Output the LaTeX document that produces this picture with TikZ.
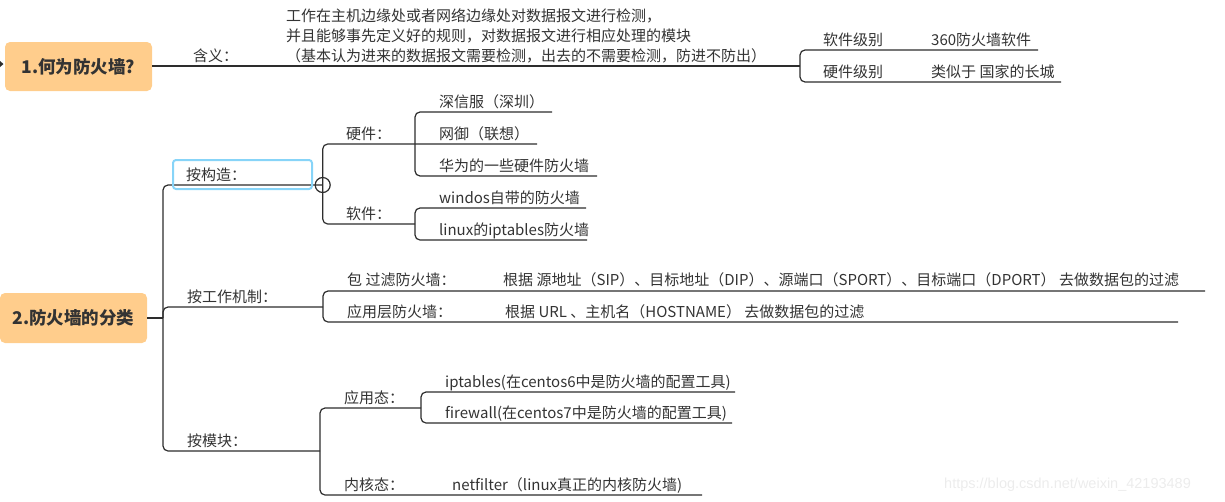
\documentclass[tikz,border=0pt]{standalone}
\usepackage{fontspec}
\setmainfont{Noto Sans CJK SC}
\newfontfamily\wmfont{Liberation Sans}
\definecolor{txt}{RGB}{51,51,51}
\definecolor{lc}{RGB}{45,45,45}
\definecolor{topicfill}{RGB}{255,205,140}
\definecolor{sel}{RGB}{135,212,248}
\definecolor{wm}{RGB}{236,236,236}
\tikzset{
  lbl/.style={anchor=base west, inner sep=0pt, text=txt, font=\fontsize{15}{20}\selectfont},
  topic/.style={fill=topicfill, rounded corners=5pt, inner sep=0pt, text=txt,
    font=\fontsize{17.5}{20}\selectfont\bfseries},
  conn/.style={draw=lc, line width=1.2pt, rounded corners=5pt},
}
\begin{document}
\begin{tikzpicture}[x=1pt,y=-1pt]
\useasboundingbox (0,0) rectangle (1225,501);

% ---------- topic 1 ----------
\node[topic, minimum width=147pt, minimum height=49pt] (b1) at (78.5,66.5) {1.何为防火墙?};
\fill[lc] (0,61) -- (3.5,64) -- (0,67) -- cycle;

\node[lbl] (hy) at (193,61.5) {含义：};
\node[lbl] (def1) at (286,21.5) {工作在主机边缘处或者网络边缘处对数据报文进行检测，};
\node[lbl] (def2) at (286,41.5) {并且能够事先定义好的规则，对数据报文进行相应处理的模块};
\node[lbl] (def3) at (286,61.5) {（基本认为进来的数据报文需要检测，出去的不需要检测，防进不防出）};
\node[lbl] (rj) at (823,45.5) {软件级别};
\node[lbl] (rjv) at (931,45.5) {360防火墙软件};
\node[lbl] (yj) at (823,77.5) {硬件级别};
\node[lbl] (yjv) at (931,77.5) {类似于 国家的长城};

\coordinate (j1) at (800,66);
\draw[conn] (b1.east |- j1) -- (j1);
\draw[conn] (1038,50) -- (800,50) -- (800,82) -- (1061,82);

% ---------- topic 2 ----------
\node[topic, minimum width=147pt, minimum height=50pt] (b2) at (73.5,318) {2.防火墙的分类};
\coordinate (sp) at (163,318);
\draw[conn] (b2.east) -- (sp);
\coordinate (c1) at (322.7,185);
\draw[conn] (c1) -- (163,185) -- (163,451) -- (320,451);
\draw[conn] (sp) -- (163,307) -- (323,307);

% 按构造
\draw[draw=sel, line width=2pt, rounded corners=3pt] (173,160) rectangle (312,189);
\node[lbl] (agz) at (186,180.5) {按构造：};
\draw[conn] (537,144) -- (322.7,144) -- (322.7,224) -- (415,224);
\draw[draw=lc, line width=1.2pt, fill=none] (c1) circle (7.5pt);
\node[lbl] (yjn) at (346,139.5) {硬件：};
\node[lbl] (h1) at (439,107.5) {深信服（深圳）};
\node[lbl] (h2) at (439,139.5) {网御（联想）};
\node[lbl] (h3) at (439,171.5) {华为的一些硬件防火墙};
\draw[conn] (552,112) -- (415,112) -- (415,176) -- (597,176);
\node[lbl] (rjn) at (346,219.5) {软件：};
\node[lbl] (s1) at (439,203.5) {windos自带的防火墙};
\node[lbl] (s2) at (439,235.5) {linux的iptables防火墙};
\draw[conn] (586,208) -- (415,208) -- (415,240) -- (587,240);

% 按工作机制
\node[lbl] (agj) at (187,302.5) {按工作机制：};
\draw[conn] (1205,291) -- (323,291) -- (323,322) -- (1178,322);
\node[lbl] (bgl) at (347,285.5) {包 过滤防火墙：};
\node[lbl] (bglv) at (503,285.5) {根据 源地址（SIP）、目标地址（DIP）、源端口（SPORT）、目标端口（DPORT） 去做数据包的过滤};
\node[lbl] (yyc) at (347,317.5) {应用层防火墙：};
\node[lbl] (yycv) at (505,317.5) {根据 URL 、主机名（HOSTNAME） 去做数据包的过滤};

% 按模块
\node[lbl] (amk) at (187,446.5) {按模块：};
\draw[conn] (421,408) -- (320,408) -- (320,495) -- (702,495);
\draw[conn] (735,392) -- (421,392) -- (421,423) -- (732,423);
\node[lbl] (yyt) at (344,403.5) {应用态：};
\node[lbl] (m1) at (445,387.5) {iptables(在centos6中是防火墙的配置工具)};
\node[lbl] (m2) at (445,418.5) {firewall(在centos7中是防火墙的配置工具)};
\node[lbl] (nht) at (344,490.5) {内核态：};
\node[lbl] (m3) at (452,490.5) {netfilter（linux真正的内核防火墙)};

% watermark
\node[anchor=base west, inner sep=0pt, text=wm, font=\wmfont\fontsize{14.5}{16}\selectfont] (wmk) at (944,488) {https://blog.csdn.net/weixin\_42193489};
\end{tikzpicture}
\end{document}
